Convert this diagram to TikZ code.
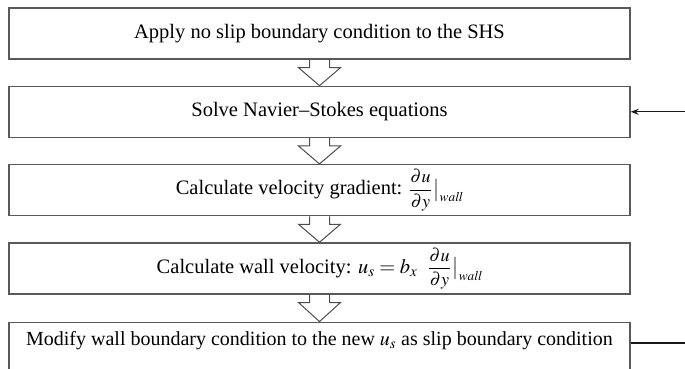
\documentclass[tikz,border=0pt]{standalone}
\usepackage{amsmath}
\usepackage{mathptmx}
\usepackage{fontspec}
\setmainfont{Liberation Serif}
\usetikzlibrary{arrows.meta, positioning, calc}

\begin{document}
\begin{tikzpicture}[
    x=1pt, y=-1pt,
    every node/.style={font=\fontsize{20.5}{24}\selectfont},
    stepbox/.style={draw=black!65, line width=1.3pt, rectangle,
        minimum width=621pt, minimum height=51pt, inner xsep=2pt},
    hollow/.style={draw=black!70, line width=1pt, line join=miter},
    feedback/.style={draw=black!90, line width=1.2pt}
]
\clip (0,0) rectangle (685,368);

% Boxes
\node[stepbox] (apply) at (319.5,33.5) {Apply no slip boundary condition to the SHS};
\node[stepbox, below=26pt of apply] (solve) {Solve Navier--Stokes equations};
\node[stepbox, below=26pt of solve] (grad)
    {Calculate velocity gradient: {\fontsize{18}{18}\selectfont$\dfrac{\partial u}{\partial y}\,\big|_{\mathit{wall}}$}};
\node[stepbox, below=26pt of grad] (wallvel)
    {Calculate wall velocity: $u_s = b_x$\; {\fontsize{18}{18}\selectfont$\dfrac{\partial u}{\partial y}\,\big|_{\mathit{wall}}$}};
\node[stepbox, below=27pt of wallvel, text height=17pt, text depth=22pt, inner ysep=6pt,
    font=\fontsize{20}{24}\selectfont] (modify)
    {Modify wall boundary condition to the new $u_s$ as slip boundary condition};

% Hollow arrows between boxes
\foreach \a/\b in {apply/solve, solve/grad, grad/wallvel, wallvel/modify}
    \draw[hollow] ($(\a.south)+(-10,0)$) -- ++(0,8) -- ++(-11,0) -- (\b.north)
        -- ($(\a.south)+(21,8)$) -- ++(-11,0) -- ++(0,-8);

% Feedback loop
\coordinate (loop) at (705,0);
\draw[feedback, -{Stealth[length=8pt,width=6pt]}] (modify.mid east) -- (modify.mid east -| loop) |- (solve.east);

\end{tikzpicture}
\end{document}
